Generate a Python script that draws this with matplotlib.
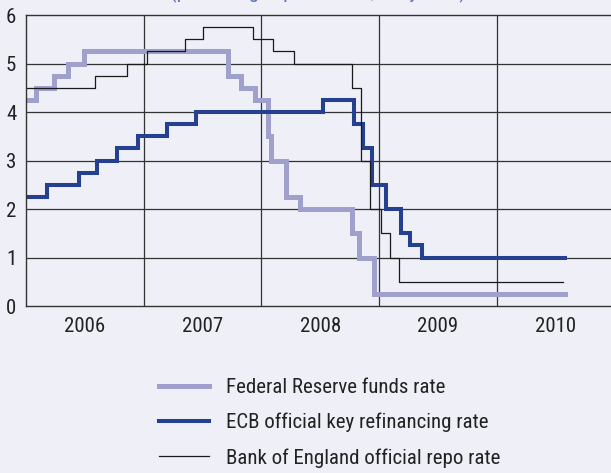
import matplotlib
matplotlib.use("Agg")
import matplotlib.pyplot as plt
import pandas as pd

plt.rcParams["font.family"] = ["Roboto Condensed", "DejaVu Sans"]

# policy rate changes (date of change, new rate in %)
fed_dates = ["2006-01-01", "2006-01-31", "2006-03-28", "2006-05-10", "2006-06-29",
             "2007-09-18", "2007-10-31", "2007-12-11", "2008-01-22", "2008-01-30",
             "2008-03-18", "2008-04-30", "2008-10-08", "2008-10-29", "2008-12-16",
             "2010-08-01"]
fed_rates = [4.25, 4.50, 4.75, 5.00, 5.25,
             4.75, 4.50, 4.25, 3.50, 3.00,
             2.25, 2.00, 1.50, 1.00, 0.25,
             0.25]

ecb_dates = ["2006-01-01", "2006-03-08", "2006-06-15", "2006-08-09", "2006-10-11",
             "2006-12-13", "2007-03-14", "2007-06-13", "2008-07-09", "2008-10-15",
             "2008-11-12", "2008-12-10", "2009-01-21", "2009-03-11", "2009-04-08",
             "2009-05-13", "2010-08-01"]
ecb_rates = [2.25, 2.50, 2.75, 3.00, 3.25,
             3.50, 3.75, 4.00, 4.25, 3.75,
             3.25, 2.50, 2.00, 1.50, 1.25,
             1.00, 1.00]

boe_dates = ["2006-01-01", "2006-08-03", "2006-11-09", "2007-01-11", "2007-05-10",
             "2007-07-05", "2007-12-06", "2008-02-07", "2008-04-10", "2008-10-08",
             "2008-11-06", "2008-12-04", "2009-01-08", "2009-02-05", "2009-03-05",
             "2010-07-25"]
boe_rates = [4.50, 4.75, 5.00, 5.25, 5.50,
             5.75, 5.50, 5.25, 5.00, 4.50,
             3.00, 2.00, 1.50, 1.00, 0.50,
             0.50]

years = [2006, 2007, 2008, 2009, 2010]
labels = ["Federal Reserve funds rate", "ECB official key refinancing rate",
          "Bank of England official repo rate"]


def to_year(dates):
    ts = pd.to_datetime(pd.Series(dates))
    days = ts.dt.is_leap_year.map({True: 366, False: 365})
    return (ts.dt.year + (ts.dt.dayofyear - 1) / days).to_numpy()


bg = "#eeeff7"
fig = plt.figure(figsize=(6.11, 4.73), dpi=100, facecolor=bg)
ax = fig.add_axes([26 / 611, 167 / 473, 585 / 611, 291 / 473], facecolor=bg)

ax.step(to_year(fed_dates), fed_rates, where="post", color="#9fa0cb", lw=3.6,
        label=labels[0], solid_joinstyle="miter")
ax.step(to_year(ecb_dates), ecb_rates, where="post", color="#24408e", lw=2.9,
        label=labels[1], solid_joinstyle="miter")
ax.step(to_year(boe_dates), boe_rates, where="post", color="#1a1a1a", lw=0.9,
        label=labels[2])

ax.set_xlim(2006, 2006 + 585 / 117.7)
ax.set_ylim(0, 6)

for y in range(1, 6):
    ax.axhline(y, color="#333333", lw=0.9, zorder=0)
for yr in years[1:]:
    ax.axvline(yr, color="#333333", lw=0.9, zorder=0)

ax.set_yticks(range(0, 7))
ax.set_xticks([yr + 0.5 for yr in years])
ax.set_xticklabels([str(yr) for yr in years])
ax.tick_params(axis="both", length=0, labelsize=15, colors="#222222")
ax.tick_params(axis="x", pad=8)
ax.tick_params(axis="y", pad=7)

for side in ["left", "top", "bottom"]:
    ax.spines[side].set_color("#333333")
    ax.spines[side].set_linewidth(1.0)
ax.spines["right"].set_visible(False)

# title sits mostly above the image edge, as in the source
fig.text(318 / 611, 1 + 2 / 473, "(percentages per annum; daily data)", color="#5b6fc0",
         fontsize=15, ha="center", va="baseline")

fig.legend(loc="upper left", bbox_to_anchor=(151 / 611, 1 - 370 / 473),
           frameon=False, fontsize=15, handlelength=2.4, handletextpad=0.8,
           labelspacing=0.75, borderaxespad=0, labelcolor="#222222")

fig.savefig("out.png", dpi=100, facecolor=bg)
